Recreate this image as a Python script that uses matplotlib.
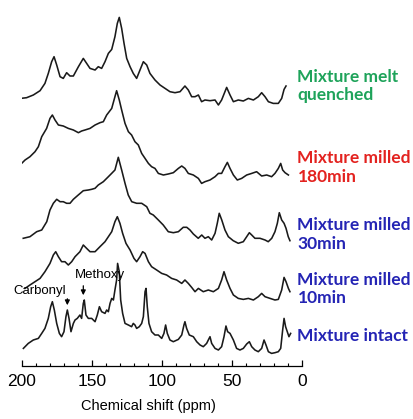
import numpy as np
import matplotlib.pyplot as plt

# stacked 13C NMR spectra, chemical shift (ppm) vs intensity (a.u.)
quenched_ppm = [200.7, 196.5, 191.7, 186.9, 183.4, 181, 178.6, 176.9, 175, 172.6, 170.3, 167.9, 165.5, 163.1,
                159.5, 156, 153.6, 151.2, 147.6, 145.3, 142.9, 140.5, 138.1, 135.7, 133.4, 131.7, 130.3, 128.6,
                126.9, 125, 122.6, 120.3, 117.9, 115.5, 113.1, 110.7, 108.4, 104.8, 101.2, 97.6, 94.1, 90.5,
                86.9, 83.4, 81, 78.6, 76.2, 73.8, 71.5, 69.1, 65.5, 61.9, 59.5, 57.2, 53.6, 51.2, 48.8, 45.3,
                41.7, 38.1, 34.5, 31, 28.6, 26.2, 23.8, 20.3, 16.7, 14.3, 12.6, 11.2]
quenched_int = [8.3, 9, 11.7, 16, 23.3, 33.3, 45, 50, 41.7, 30, 28.3, 34, 30.7, 30.7,
                40, 48.3, 43.3, 38.3, 36.7, 40, 38.3, 45, 53.3, 57.3, 70, 83.3, 89.3, 78.3,
                63.3, 48.3, 40, 33.3, 28.3, 36.7, 45, 41.7, 33.3, 26.7, 21.7, 18.3, 15, 14,
                15, 20.7, 16.7, 10, 10, 11.7, 5, 6.7, 6, 6.7, 1.7, 6.7, 19.3, 11.7, 5, 6.7,
                5.7, 8.3, 6.7, 10, 14, 10, 5, 3.3, 3.3, 8.3, 17.3, 20.7]

m180_ppm = [201.2, 197.6, 194.1, 190.5, 188.1, 185.7, 182.2, 179.8, 178.1, 176.2, 173.8, 170.3, 166.7, 163.1,
            159.5, 157.2, 154.8, 151.2, 147.6, 144.1, 141.7, 139.3, 135.7, 133.4, 132.2, 130.3, 128.6, 126.2,
            123.8, 121.5, 119.1, 116.7, 114.3, 111.9, 109.5, 107.2, 104.8, 102.4, 98.8, 95.3, 91.7, 88.1,
            85.7, 83.4, 81, 77.4, 73.8, 71.5, 69.1, 65.5, 61.9, 59.5, 57.2, 54.8, 53.1, 51.2, 48.8, 46,
            42.9, 39.3, 35.7, 32.2, 28.6, 25, 21.5, 19.1, 16.7, 15, 13.6, 11.9, 9.5]
m180_int = [21.7, 26.7, 30, 35, 40, 50, 58.3, 68.3, 71.7, 66.7, 61.7, 60.7, 58.3, 56.7,
            54, 55.7, 56.7, 58.3, 61.7, 64, 65, 71.7, 78.3, 90, 96, 86.7, 76.7, 63.3,
            55, 51.7, 45, 41.7, 33.3, 28.3, 23.3, 20, 18.3, 13.3, 11.7, 12.7, 14, 18.3,
            20.7, 18.3, 13.3, 11.7, 8.3, 3.3, 5, 6.7, 10, 13.3, 13.3, 20, 24.3, 18.3, 11.7, 6.7,
            8.3, 11.7, 13.3, 15, 10.7, 11.7, 10, 13.3, 18.3, 23.3, 16.7, 14, 11.7]

m30_ppm = [198.9, 194.1, 189.3, 185.7, 182.1, 179.8, 177.4, 175, 172.6, 170.3, 167.9, 165.5, 163.1, 159.6,
           156, 152.4, 150, 147.6, 145.3, 141.7, 138.1, 135.7, 133.4, 131, 128.6, 126.2, 123.9, 121.4,
           117.9, 114.3, 110.7, 108.4, 106, 102.4, 98.9, 95.3, 91.7, 88.1, 84.6, 82.1, 79.8, 77.4,
           73.9, 71.4, 69.1, 66.7, 64.3, 61.9, 60.3, 58.9, 57.1, 54.8, 52.4, 48.9, 45.3, 41.7,
           39.3, 37.4, 35.7, 33.4, 29.8, 26.2, 23.9, 21.4, 19.1, 17.4, 16, 14.3, 12.6, 11.2, 9.6, 8.4]
m30_int = [6.7, 8.3, 13.3, 15, 23.3, 35, 41.7, 45.7, 43.3, 43.3, 41.7, 41.7, 45.7, 50,
           54.3, 55, 55.7, 56.7, 60, 63.3, 68.3, 71.7, 75, 87.7, 75, 61.7, 50, 43.3,
           41.7, 41.7, 38.3, 31.7, 30, 25, 20, 13.3, 12.3, 13.3, 17.7, 17.7, 15, 11,
           6.7, 10, 6.7, 8.3, 5, 11.7, 21.7, 31.7, 25, 15, 8.3, 4.3, 1.7, 3.3,
           8.3, 12.3, 10, 6.7, 6.7, 5, 3.3, 6.7, 13.3, 21.7, 32.3, 25, 21.7, 16.7, 8.3, 4.3]

m10_ppm = [197.6, 194.1, 190.5, 186.9, 183.4, 179.8, 177.4, 175.7, 173.8, 171.5, 169.1, 166.7, 164.3, 161.9,
           158.4, 156, 153.6, 151.2, 147.6, 144.1, 140.5, 138.1, 135.7, 133.4, 131.7, 129.8, 127.9, 125.5,
           122.6, 119.8, 117.9, 115.5, 113.6, 111.9, 109.5, 107.2, 103.6, 100, 96.5, 92.9, 89.3, 85.7,
           83.4, 81, 78.6, 76.2, 73.8, 70.3, 66.7, 63.1, 59.5, 57.2, 55.5, 53.6, 51.2, 48.8, 45.3,
           41.7, 38.1, 34.5, 31, 28.6, 26.2, 22.6, 19.1, 16.7, 14.3, 12.6, 11.2, 9.5, 8.4]
m10_int = [13.3, 16.7, 20, 23.3, 30, 38.3, 46.7, 50, 45, 40, 40, 36.7, 40, 45,
           50, 56.7, 53.3, 50, 50, 55, 60, 65, 70, 80, 85, 78.3, 68.3, 58.3,
           51.7, 43.3, 40, 45, 50, 48.3, 40, 35, 31.7, 28.3, 26.7, 23.3, 21.7, 18.3,
           21.7, 18.3, 14.3, 10, 13.3, 10, 11.7, 10, 13.3, 21.7, 30, 21.7, 13.3, 6.7, 3.3,
           2.3, 3.3, 1.7, 5, 8.3, 5, 3.3, 1.7, 2.3, 11.7, 24.3, 20, 13.3, 10]

intact_ppm = [198.8, 195.3, 191.7, 188.1, 185.7, 183.4, 181, 179.3, 178.1, 176.7, 175, 173.1, 171.5, 169.8,
              168.4, 167.4, 166.2, 164.8, 163.1, 161.9, 160.3, 158.4, 157.2, 156, 155.3, 154.1, 152.4, 150,
              147.6, 146, 144.5, 142.9, 140.5, 139.3, 138.1, 136.9, 135.7, 134.5, 133.4, 132.2, 131.5, 130.3,
              129.3, 127.9, 126.2, 123.8, 121.5, 120.3, 119.1, 117.9, 116, 114.3, 113.1, 111.9, 111.2, 110.3,
              109.1, 107.2, 104.8, 102.4, 100, 98.4, 97.2, 96, 94.1, 91.7, 88.1, 85.7, 84.1, 83.4,
              82.2, 80.3, 77.4, 75, 72.6, 70.3, 67.9, 66.7, 65.5, 64.3, 61.9, 59.5, 57.2, 55.5,
              54.1, 52.9, 51.2, 48.8, 46.5, 44.1, 41.7, 39.3, 37.4, 35.7, 33.4, 31, 28.6, 26.9,
              25.5, 23.8, 21.5, 19.1, 16.7, 15, 13.6, 12.6, 11.5, 10.3, 9.1, 7.9]
intact_int = [8.3, 13.3, 16.7, 18.3, 23.3, 28.3, 38.3, 50, 55, 46.7, 33.3, 23.3, 20, 25,
              40, 46.7, 38.3, 25, 33.3, 36.7, 38.3, 41.7, 38.3, 53.3, 56.7, 41.7, 38.3, 38.3,
              35, 41.7, 50, 45, 43.3, 46.7, 45, 53.3, 58.3, 56.7, 66.7, 76.7, 93.3, 85,
              56.7, 43.3, 33.3, 31.7, 30, 33.3, 31.7, 28.3, 30, 33.3, 40, 65, 68.3, 50,
              33.3, 25, 21.7, 21.7, 18.3, 23.3, 31.7, 23.3, 16.7, 15, 17.3, 21.7, 31.7, 35,
              28.3, 21.7, 20, 15, 11.7, 10, 13.3, 16.7, 20, 13.3, 8.3, 6.7, 10, 20,
              30.7, 25, 23.3, 16.7, 8.3, 6.7, 8.3, 12.7, 15, 10, 6.7, 5, 8.3, 16.7,
              11.7, 5, 3.3, 4, 5, 8.3, 26.7, 38.3, 30, 25, 20, 23.3]

labels = ['Mixture melt\nquenched', 'Mixture milled\n180min', 'Mixture milled\n30min',
          'Mixture milled\n10min', 'Mixture intact']
label_colors = ['#1ea35a', '#e3221f', '#2424b4', '#2424b4', '#2424b4']

spectra = [(quenched_ppm, quenched_int), (m180_ppm, m180_int), (m30_ppm, m30_int),
           (m10_ppm, m10_int), (intact_ppm, intact_int)]
offsets = [259.3, 179.3, 121, 64.3, 9.3]
label_y = [280, 198.5, 131.5, 77, 30]

fig = plt.figure(figsize=(4.14, 4.19), dpi=100)
ax = fig.add_axes([21.7 / 414, 53 / 419, 280 / 414, 366 / 419])

for (ppm, inten), off in zip(spectra, offsets):
    ax.plot(ppm, np.array(inten) + off, color='#1a1a1a', lw=1.15)

for lab, c, y in zip(labels, label_colors, label_y):
    ax.text(3.0, y, lab, color=c, fontsize=12.5, fontweight='bold', family='Lato',
            ha='left', va='center', linespacing=1.2, clip_on=False)

# peak assignments
ax.text(187, 75, 'Carbonyl', fontsize=9.5, family='Liberation Sans', ha='center', va='center')
ax.text(144, 91, 'Methoxy', fontsize=9.5, family='Liberation Sans', ha='center', va='center')
ax.annotate('', xy=(167.4, 58), xytext=(167.4, 70),
            arrowprops=dict(arrowstyle='-|>', color='k', lw=0.9, mutation_scale=7))
ax.annotate('', xy=(156, 68), xytext=(156, 83),
            arrowprops=dict(arrowstyle='-|>', color='k', lw=0.9, mutation_scale=7))

ax.set_xlim(200, 0)
ax.set_ylim(0, 366)
for s in ['top', 'left', 'right']:
    ax.spines[s].set_visible(False)
ax.spines['bottom'].set_linewidth(0.9)
ax.set_yticks([])
ax.set_xticks([200, 150, 100, 50, 0])
ax.set_xticks(np.arange(0, 201, 10), minor=True)
ax.tick_params(axis='x', which='major', direction='in', length=4, width=0.9, pad=6,
               labelsize=12.5)
ax.tick_params(axis='x', which='minor', direction='in', length=2.5, width=0.8)
for t in ax.get_xticklabels():
    t.set_family('Liberation Sans')
ax.set_xlabel('Chemical shift (ppm)', fontsize=10.5, family='Liberation Sans')
ax.xaxis.set_label_coords(0.451, -0.09)

fig.savefig('out.png', dpi=100)
